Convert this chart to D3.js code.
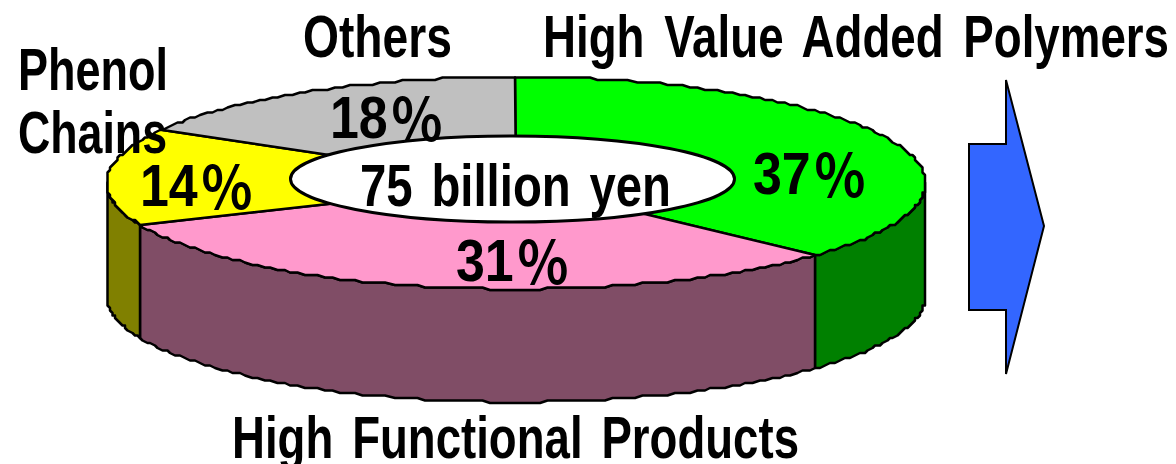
<!DOCTYPE html>
<html><head><meta charset="utf-8">
<script src="https://cdn.jsdelivr.net/npm/d3@7/dist/d3.min.js"></script>
<style>html,body{margin:0;padding:0;background:#fff;overflow:hidden}svg{display:block}
text{font-family:"Liberation Sans",Arial,sans-serif;font-weight:700;fill:#000}
.pc{font-family:"Noto Sans CJK JP";font-weight:700}</style>
</head><body><svg id="c" width="1176" height="464"></svg>
<script>
const categories = ["High Value Added Polymers","High Functional Products","Phenol Chains","Others"];
const values = [37,31,14,18];
const centerLabel = "75 billion yen";

const topColors = ["#00ff00","#ff99cc","#ffff00","#c0c0c0"];
const sideColors = ["#008000","#804d66","#808000","#606060"];
const cx=516, cy=183, rx=409.5, ry=106, depth=113, grid=2.5;
const svg=d3.select("#c");
// the reference's 3D projection compresses the far-left sector slightly
const warp=d3.scaleLinear().domain([0,.37,.68,.82,1]).range([0,.37,.685,.835,1]);
const arcs=d3.pie().sort(null).value(d=>d)(values).map(s=>({
  a0:warp(s.startAngle/(2*Math.PI))*2*Math.PI, a1:warp(s.endAngle/(2*Math.PI))*2*Math.PI}));
const snap=v=>Math.round(v/grid)*grid;
const px=a=>snap(cx+rx*Math.sin(a)), py=a=>snap(cy-ry*Math.cos(a));
const sample=(a0,a1)=>{const n=Math.max(2,Math.ceil((a1-a0)/0.02));
  const t=d3.scaleLinear().domain([0,n]).range([a0,a1]);return d3.range(n+1).map(t);};
const line=d3.line();

// walls: only the front half of the drum is visible
const front=[Math.PI/2,Math.PI*1.5];
arcs.forEach((s,i)=>{
  const a0=Math.max(s.a0,front[0]), a1=Math.min(s.a1,front[1]);
  if(a1<=a0) return;
  const as=sample(a0,a1);
  const pts=as.map(a=>[px(a),py(a)]).concat(as.slice().reverse().map(a=>[px(a),py(a)+depth]));
  svg.append("path").attr("d",line(pts)+"Z")
    .attr("fill",sideColors[i]).attr("stroke","#000").attr("stroke-width",2.5).attr("stroke-linejoin","round");
});
// top face
arcs.forEach((s,i)=>{
  const pts=[[cx,cy]].concat(sample(s.a0,s.a1).map(a=>[px(a),py(a)]));
  svg.append("path").attr("d",line(pts)+"Z")
    .attr("fill",topColors[i]).attr("stroke","#000").attr("stroke-width",2.5).attr("stroke-linejoin","round");
});
// centre hole
svg.append("ellipse").attr("cx",512.5).attr("cy",179).attr("rx",222).attr("ry",43)
  .attr("fill","#fff").attr("stroke","#000").attr("stroke-width",3);
// arrow
svg.append("path").attr("d",line([[969,144],[1006,144],[1006,80],[1044,226],[1006,374],[1006,310],[969,310]])+"Z")
  .attr("fill","#3366ff").attr("stroke","#000").attr("stroke-width",2);

const fs=59;
function label(str,x,y,w,ws){
  svg.append("text").attr("x",x).attr("y",y).attr("font-size",fs)
    .attr("word-spacing",ws||0)
    .attr("textLength",w).attr("lengthAdjust","spacingAndGlyphs").text(str);
}
// percentage labels, in the order of values
const pctPos=[[753,194],[456,281],[140,206],[330,138]];
values.forEach((v,i)=>{
  const g=svg.append("text").attr("transform",`translate(${pctPos[i][0]},${pctPos[i][1]}) scale(0.88,1)`).attr("font-size",fs);
  g.append("tspan").text(v);
  g.append("tspan").attr("class","pc").attr("font-size",60).attr("dx",3).attr("dy",4).text("％");
});
label(centerLabel,360,206,311,7);
label(categories[0],543,57,626,9);
label(categories[1],232,458,567,8);
const parts=categories[2].split(" ");
label(parts[0],18,90,150);
label(parts[1],18,153,149);
label(categories[3],303,57,149);
</script></body></html>
